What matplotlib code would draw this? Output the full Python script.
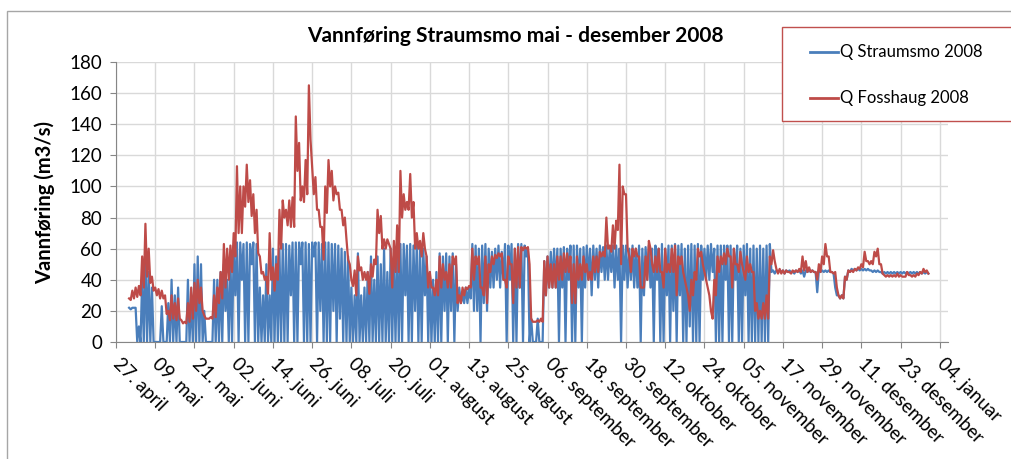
import matplotlib
matplotlib.use("Agg")
import matplotlib.pyplot as plt
from matplotlib.patches import Rectangle
from matplotlib.lines import Line2D
import numpy as np
import pandas as pd

plt.rcParams["font.family"] = ["Lato", "DejaVu Sans"]

# daily high / low values, 1. mai - 31. desember 2008
start = "2008-05-01"

straumsmo_hi = [
    22, 22, 22, 10, 40, 58, 45, 35, 0, 0,
    23, 0, 25, 40, 30, 35, 0, 0, 40, 30,
    50, 55, 50, 20, 0, 0, 40, 40, 45, 50,
    40, 55, 60, 64, 64, 63, 64, 63, 64, 63,
    35, 30, 50, 30, 60, 55, 60, 63, 63, 62,
    64, 64, 64, 64, 64, 63, 64, 64, 64, 63,
    64, 64, 63, 63, 62, 60, 58, 55, 35, 30,
    57, 30, 35, 45, 55, 40, 55, 50, 60, 45,
    60, 55, 60, 63, 63, 62, 63, 62, 63, 62,
    60, 55, 45, 40, 45, 57, 55, 57, 55, 57,
    50, 35, 30, 35, 35, 63, 62, 60, 62, 63,
    60, 58, 60, 62, 58, 63, 62, 63, 60, 63,
    63, 62, 60, 15, 0, 15, 0, 52, 55, 58,
    60, 60, 60, 61, 60, 62, 62, 62, 60, 61,
    62, 60, 62, 60, 62, 61, 62, 60, 62, 62,
    60, 62, 62, 60, 62, 60, 62, 60, 61, 62,
    60, 62, 60, 63, 60, 62, 62, 63, 62, 63,
    60, 62, 63, 62, 63, 62, 60, 62, 63, 60,
    62, 62, 62, 62, 62, 60, 62, 60, 62, 63,
    60, 62, 60, 62, 60, 62, 63, 46, 46, 46,
    46, 46, 46, 45, 46, 46, 46, 46, 46, 46,
    45, 46, 46, 46, 46, 45, 35, 30, 30, 42,
    46, 47, 47, 47, 47, 47, 47, 46, 46, 46,
    45, 45, 45, 45, 45, 45, 45, 45, 45, 45,
    45, 45, 45, 45, 45,
]
straumsmo_lo = [
    21, 22, 0, 0, 0, 0, 0, 0, 0, 0,
    0, 0, 0, 0, 0, 0, 0, 0, 0, 0,
    0, 0, 0, 0, 0, 0, 0, 0, 0, 20,
    0, 0, 30, 0, 40, 0, 0, 50, 0, 0,
    0, 0, 0, 0, 0, 0, 0, 0, 0, 30,
    0, 0, 50, 0, 0, 0, 55, 0, 20, 0,
    0, 0, 20, 0, 15, 0, 0, 0, 0, 0,
    0, 0, 0, 0, 0, 0, 0, 0, 0, 0,
    0, 0, 0, 0, 30, 0, 0, 20, 0, 0,
    30, 0, 0, 0, 0, 0, 20, 0, 20, 0,
    20, 25, 25, 25, 28, 20, 20, 0, 25, 20,
    35, 35, 40, 35, 40, 0, 40, 0, 0, 35,
    0, 55, 0, 0, 0, 0, 0, 30, 35, 35,
    35, 0, 35, 0, 40, 0, 0, 35, 0, 35,
    40, 30, 40, 35, 45, 40, 40, 45, 35, 40,
    0, 40, 35, 40, 35, 35, 0, 30, 40, 35,
    0, 40, 0, 0, 30, 0, 20, 0, 30, 0,
    0, 10, 0, 0, 0, 40, 40, 40, 45, 0,
    0, 0, 40, 0, 0, 40, 0, 0, 30, 0,
    0, 0, 0, 0, 0, 0, 45, 44, 45, 45,
    44, 45, 45, 44, 45, 44, 42, 45, 45, 45,
    32, 45, 45, 45, 45, 44, 30, 28, 28, 40,
    45, 46, 46, 46, 46, 46, 46, 45, 45, 45,
    44, 44, 44, 44, 44, 44, 44, 44, 44, 44,
    44, 44, 44, 44, 44,
]
fosshaug_hi = [
    28, 33, 35, 36, 55, 76, 60, 42, 35, 34,
    33, 30, 20, 30, 25, 28, 14, 13, 25, 35,
    38, 40, 35, 17, 15, 16, 30, 35, 45, 63,
    60, 62, 70, 113, 100, 100, 114, 104, 95, 85,
    55, 45, 42, 70, 48, 50, 85, 91, 85, 91,
    93, 145, 128, 100, 117, 165, 113, 106, 85, 74,
    100, 117, 110, 100, 96, 85, 80, 53, 40, 46,
    55, 48, 45, 45, 50, 53, 85, 81, 66, 66,
    60, 65, 75, 110, 95, 90, 108, 90, 70, 65,
    70, 55, 45, 35, 40, 55, 50, 45, 50, 55,
    55, 30, 35, 35, 36, 60, 55, 55, 35, 55,
    50, 55, 56, 57, 57, 40, 55, 50, 60, 61,
    61, 61, 61, 15, 13, 14, 15, 52, 55, 50,
    50, 55, 55, 57, 57, 55, 50, 55, 50, 55,
    50, 45, 55, 55, 58, 58, 80, 62, 75, 78,
    114, 100, 95, 55, 60, 60, 55, 35, 55, 65,
    50, 55, 60, 45, 60, 50, 60, 62, 55, 55,
    40, 30, 40, 45, 60, 58, 45, 35, 20, 40,
    55, 55, 57, 60, 55, 60, 50, 58, 45, 55,
    50, 45, 25, 20, 25, 30, 55, 59, 47, 47,
    46, 46, 45, 46, 46, 47, 55, 52, 48, 46,
    45, 50, 55, 63, 55, 45, 45, 30, 30, 42,
    46, 46, 47, 48, 50, 58, 52, 52, 58, 60,
    50, 43, 43, 43, 43, 44, 43, 42, 45, 43,
    43, 44, 45, 47, 46,
]
fosshaug_lo = [
    27, 28, 29, 30, 35, 42, 38, 33, 30, 28,
    28, 18, 14, 15, 14, 15, 12, 12, 13, 15,
    20, 25, 20, 15, 15, 15, 16, 25, 28, 35,
    40, 45, 55, 70, 70, 87, 90, 81, 70, 57,
    44, 40, 31, 40, 33, 40, 60, 80, 75, 74,
    74, 110, 91, 90, 95, 130, 95, 85, 74, 53,
    83, 100, 91, 95, 85, 75, 66, 50, 36, 30,
    46, 40, 40, 31, 42, 50, 70, 60, 60, 63,
    35, 45, 45, 80, 85, 85, 80, 60, 60, 55,
    60, 35, 35, 30, 30, 35, 40, 35, 35, 50,
    25, 25, 30, 34, 35, 40, 50, 35, 30, 25,
    45, 50, 54, 55, 40, 35, 50, 25, 35, 35,
    59, 60, 50, 13, 13, 13, 13, 30, 35, 35,
    35, 40, 40, 45, 45, 25, 25, 40, 40, 45,
    40, 40, 45, 45, 55, 55, 60, 58, 60, 72,
    50, 95, 60, 45, 55, 55, 35, 35, 40, 60,
    45, 45, 45, 35, 45, 45, 45, 30, 50, 45,
    35, 20, 30, 40, 55, 50, 40, 30, 15, 30,
    45, 50, 50, 55, 35, 50, 45, 50, 40, 45,
    45, 20, 15, 15, 15, 15, 50, 52, 44, 44,
    44, 45, 44, 45, 45, 45, 46, 45, 45, 45,
    40, 45, 50, 55, 45, 44, 35, 28, 28, 40,
    45, 45, 46, 47, 48, 52, 50, 50, 55, 50,
    44, 42, 42, 42, 42, 42, 42, 42, 43, 42,
    42, 43, 44, 45, 44,
]

tick_labels = [
    "27. april", "09. mai", "21. mai", "02. juni", "14. juni", "26. juni",
    "08. juli", "20. juli", "01. august", "13. august", "25. august",
    "06. september", "18. september", "30. september", "12. oktober",
    "24. oktober", "05. november", "17. november", "29. november",
    "11. desember", "23. desember", "04. januar",
]

n = len(straumsmo_hi)
t = pd.date_range(start, periods=2 * n, freq="12h")
q_straumsmo = np.column_stack([straumsmo_hi, straumsmo_lo]).ravel()
q_fosshaug = np.column_stack([fosshaug_hi, fosshaug_lo]).ravel()

W, H = 1011, 459
fig = plt.figure(figsize=(W / 100, H / 100), dpi=100)
ax = fig.add_axes([116 / W, 1 - 342 / H, (948 - 116) / W, (342 - 62) / H])

blue = "#4A7EBB"
red = "#BE4B48"
ax.plot(t, q_straumsmo, color=blue, lw=1.6, label="Q Straumsmo 2008")
ax.plot(t, q_fosshaug, color=red, lw=1.6, label="Q Fosshaug 2008")

ticks = pd.date_range("2008-04-27", periods=len(tick_labels), freq="12D")
ax.set_xticks(ticks)
ax.set_xticklabels(tick_labels, rotation=-45, ha="left", va="center",
                   rotation_mode="anchor", fontsize=13.5)
ax.set_xlim(pd.Timestamp("2008-04-27"), pd.Timestamp("2009-01-06 12:00"))
ax.set_ylim(0, 180)
ax.set_yticks(np.arange(0, 181, 20))
ax.tick_params(axis="y", labelsize=13.5, length=4, color="#868686", pad=6)
ax.tick_params(axis="x", length=4, color="#868686", pad=10)

ax.grid(True, color="#D9D9D9", lw=1)
ax.set_axisbelow(True)
for s in ["top", "right"]:
    ax.spines[s].set_visible(False)
for s in ["left", "bottom"]:
    ax.spines[s].set_color("#868686")

ax.set_ylabel("Vannføring (m3/s)", fontsize=14.5, fontweight="bold", labelpad=10)
fig.text(515 / W, 1 - 36 / H, "Vannføring Straumsmo mai - desember 2008",
         ha="center", va="center", fontsize=15, fontweight="bold")

# outer chart frame (cut off at the right and bottom)
fig.add_artist(Rectangle((7 / W, -0.1), 1.2, 1 - 11 / H + 0.1,
                         transform=fig.transFigure, fill=False,
                         edgecolor="#A6A6A6", lw=1))

# legend box
fig.add_artist(Rectangle((782 / W, 1 - 121 / H), 0.3, 94 / H,
                         transform=fig.transFigure, facecolor="white",
                         edgecolor="#C0504D", lw=1))
for yy, c, lab in [(52, blue, "Q Straumsmo 2008"), (98, red, "Q Fosshaug 2008")]:
    fig.add_artist(Line2D([810 / W, 838 / W], [1 - yy / H] * 2,
                          transform=fig.transFigure, color=c, lw=2))
    fig.text(840 / W, 1 - yy / H, lab, ha="left", va="center", fontsize=12)

fig.savefig("out.png", dpi=100)
